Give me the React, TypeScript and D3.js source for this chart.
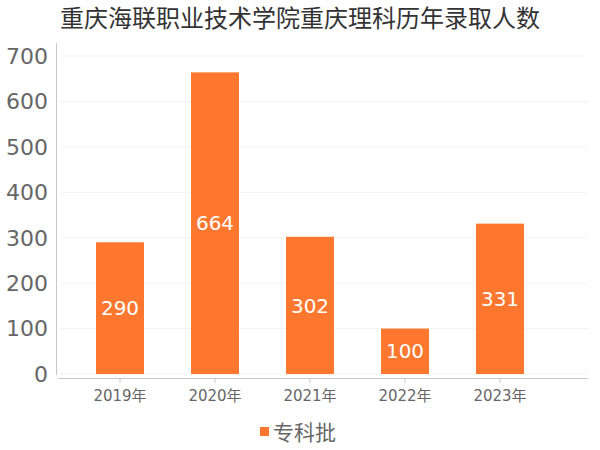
import { scaleBand, scaleLinear } from 'd3'

const years = ['2019年', '2020年', '2021年', '2022年', '2023年']
const counts = [290, 664, 302, 100, 331]
const yTicks = [0, 100, 200, 300, 400, 500, 600, 700]
const title = '重庆海联职业技术学院重庆理科历年录取人数'
const seriesName = '专科批'

const width = 600
const height = 450
const barColor = '#fe772f'
const font = '"DejaVu Sans", "Noto Sans CJK SC", sans-serif'

export default function App() {
  const xScale = scaleBand<string>()
    .domain(years)
    .range([72.5, 547.5])
    .paddingInner(0.495)
    .paddingOuter(0.2475)

  const yScale = scaleLinear().domain([0, 700]).range([374, 56])

  return (
    <svg
      width={width}
      height={height}
      style={{ position: 'absolute', left: 0, top: 0, background: '#fff' }}
      fontFamily={font}
    >
      <text x={300} y={27} textAnchor="middle" fontSize={24} fill="#333">
        {title}
      </text>

      {yTicks.map((tick) => (
        <line
          key={`${tick}-grid`}
          x1={60}
          x2={588}
          y1={yScale(tick)}
          y2={yScale(tick)}
          stroke="#f3f3f3"
        />
      ))}

      {yTicks.map((tick) => (
        <text
          key={`${tick}-label`}
          x={48}
          y={yScale(tick)}
          dy="0.36em"
          textAnchor="end"
          fontSize={22}
          fill="#666"
        >
          {tick}
        </text>
      ))}

      <line x1={56.5} x2={56.5} y1={43} y2={375} stroke="#c8c8c8" />
      <line x1={58} x2={588} y1={378.5} y2={378.5} stroke="#c8c8c8" />

      {years.map((year) => {
        const cx = (xScale(year) ?? 0) + xScale.bandwidth() / 2
        return (
          <g key={year}>
            <line x1={cx} x2={cx} y1={378} y2={383} stroke="#c8c8c8" />
            <text x={cx} y={401} textAnchor="middle" fontSize={15} fill="#666">
              {year}
            </text>
          </g>
        )
      })}

      {years.map((year, i) => {
        const x = xScale(year) ?? 0
        const y = yScale(counts[i])
        const h = yScale(0) - y
        return (
          <g key={`${year}-bar`}>
            <rect x={x} y={y} width={xScale.bandwidth()} height={h} fill={barColor} />
            <text
              x={x + xScale.bandwidth() / 2}
              y={y + h / 2}
              dy="0.36em"
              textAnchor="middle"
              fontSize={20}
              fill="#fff"
            >
              {counts[i]}
            </text>
          </g>
        )
      })}

      <rect x={260} y={427} width={9} height={9} fill={barColor} />
      <text x={273} y={432} dy="0.36em" fontSize={21} fill="#666">
        {seriesName}
      </text>
    </svg>
  )
}
